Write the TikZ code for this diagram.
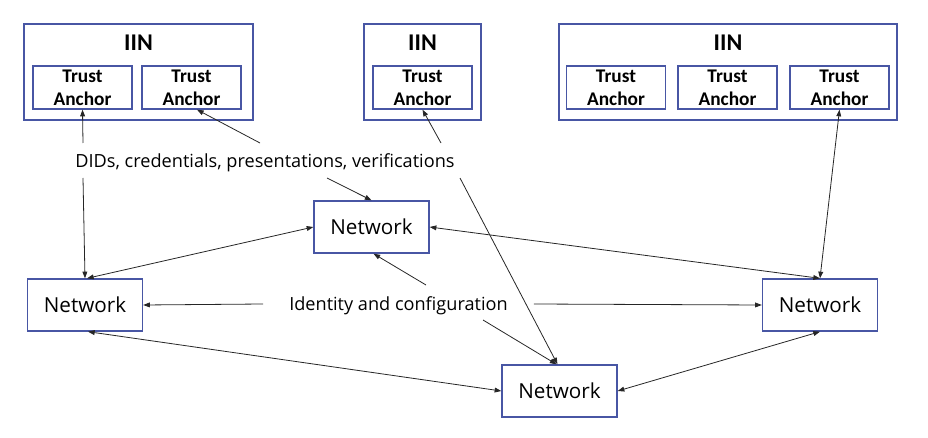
\documentclass[tikz,border=0pt]{standalone}
\usepackage{fontspec}
\setmainfont{Open Sans}
\newfontfamily\boldfont{Carlito}
\usetikzlibrary{positioning,arrows.meta}
\newlength\px
\setlength\px{0.75pt}
\definecolor{boxblue}{RGB}{72,86,164}

\begin{document}
\begin{tikzpicture}[x=0.75pt, y=-0.75pt,
		iin/.style={draw=boxblue, line width=1pt, minimum height=96\px, inner sep=0pt},
		iintitle/.style={font=\boldfont\bfseries\fontsize{18}{20}\selectfont, inner sep=0pt},
		anchorbox/.style={draw=boxblue, line width=1pt, minimum width=99\px, minimum height=43\px,
				inner sep=0pt, align=center, font=\boldfont\bfseries\fontsize{14.5}{17.3}\selectfont},
		netbox/.style={draw=boxblue, line width=1pt, minimum width=115\px, minimum height=52\px,
				inner sep=0pt, font=\fontsize{15.5}{18}\selectfont},
		flowlabel/.style={inner sep=0pt, font=\fontsize{13.6}{16}\selectfont},
		flow/.style={-{Triangle[length=5pt, width=3.6pt]}, line width=0.6pt, black!85},
		both/.style={{Triangle[length=5pt, width=3.6pt]}-{Triangle[length=5pt, width=3.6pt]}, line width=0.6pt, black!85}]
		\useasboundingbox (0, 0) rectangle (928, 438);
		% IIN 盒子和其中的 trust anchor
		\node[iin, minimum width=229\px] (iin1) at (138.5, 72) {};
		\node[iin, minimum width=117\px] (iin2) at (422.5, 72) {};
		\node[iin, minimum width=338\px] (iin3) at (728, 72) {};
		\node[iintitle] (t1) at (138.5, 43) {IIN};
		\node[iintitle] (t2) at (422.5, 43) {IIN};
		\node[iintitle] (t3) at (728, 43) {IIN};
		\foreach \n/\x in {ta1/82.5, ta2/191.5, ta3/422.5, ta4/616, ta5/727.5, ta6/839.5} {
				\node[anchorbox] (\n) at (\x, 87.5) {Trust\\Anchor};
			}
		% 四个 network
		\node[netbox] (ntop) at (371.5, 227) {Network};
		\node[netbox] (nleft) at (85, 305) {Network};
		\node[netbox] (nright) at (820, 305) {Network};
		\node[netbox] (nbot) at (559.5, 391) {Network};
		% 两个说明文字
		\node[flowlabel] (dids) at (265, 163) {DIDs, credentials, presentations, verifications};
		\node[flowlabel, inner xsep=26\px] (idconf) at (398.5, 306) {Identity and configuration};
		% 箭头的起点
		\coordinate (d1) at (83, 143);
		\coordinate (d2) at (83, 178);
		\coordinate (d3) at (260, 143);
		\coordinate (d4) at (441, 143);
		\coordinate (d5) at (327, 178);
		\coordinate (d6) at (460, 178);
		\coordinate (c1) at (426, 285);
		\coordinate (c2) at (483, 320);
		% DIDs 的箭头
		\draw[flow] (d1) -- (ta1.south);
		\draw[flow] (d2) -- (nleft.north);
		\draw[flow] (d3) -- ([xshift=5.5\px]ta2.south);
		\draw[flow] (d4) -- (ta3.south);
		\draw[flow] (d5) -- (ntop.north);
		\draw[flow] (d6) -- ([xshift=-2\px]nbot.north);
		% identity 的箭头
		\draw[flow] ([yshift=2\px]idconf.west) -- (nleft.east);
		\draw[flow] ([yshift=2\px]idconf.east) -- (nright.west);
		\draw[flow] (c1) -- ([xshift=2\px]ntop.south);
		\draw[flow] (c2) -- ([xshift=-3\px]nbot.north);
		% network 之间的双向箭头
		\draw[both] (ta6.south) -- (nright.north);
		\draw[both] ([xshift=2\px]nleft.north) -- (ntop.west);
		\draw[both] (ntop.east) -- (nright.north);
		\draw[both] ([xshift=3\px]nleft.south) -- (nbot.west);
		\draw[both] (nbot.east) -- (nright.south);
	\end{tikzpicture}
\end{document}
